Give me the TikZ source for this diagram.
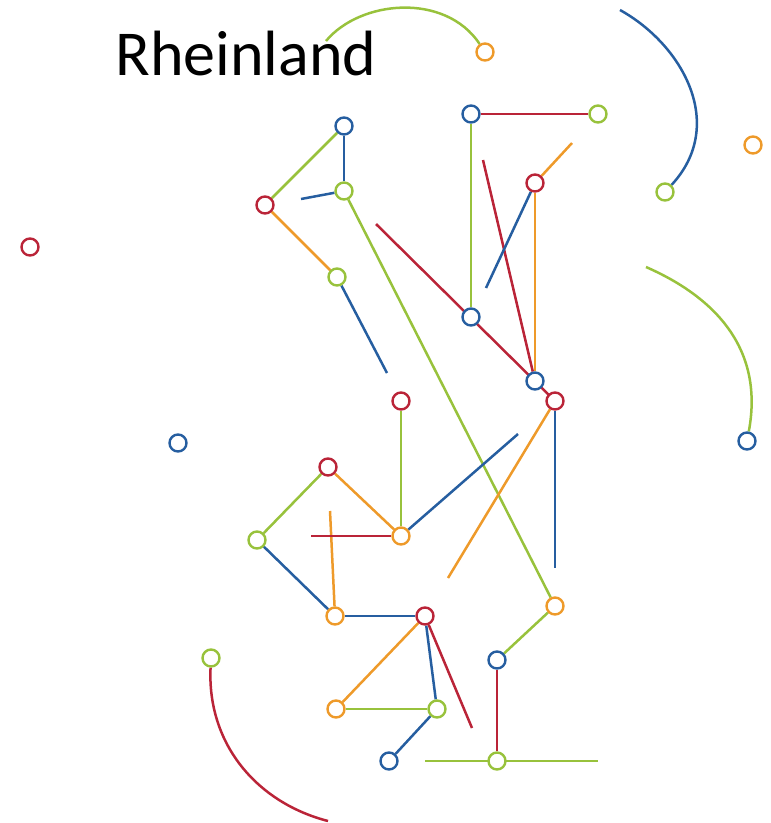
\documentclass[tikz,border=0pt]{standalone}
\usepackage{fontspec}
\setmainfont{Carlito}
\usetikzlibrary{backgrounds}
\definecolor{cblue}{RGB}{38,94,160}
\definecolor{cred}{RGB}{186,36,56}
\definecolor{cgreen}{RGB}{152,194,60}
\definecolor{corange}{RGB}{238,154,42}
\tikzset{
  dot/.style={circle, draw=#1, fill=white, line width=2.4pt, minimum size=17pt, inner sep=0pt},
  ln/.style={draw=#1, line width=2.5pt},
}
\begin{document}
\begin{tikzpicture}[x=1pt,y=-1pt]
\useasboundingbox (0,0) rectangle (771,823);
\node[anchor=base, font=\fontsize{64}{70}\selectfont, inner sep=0pt] (title) at (246,75) {Rheinland};
% nodes
\node[dot=cblue] (A) at (344,126) {};
\node[dot=cgreen] (B) at (344,191) {};
\node[dot=cred] (C) at (265,205) {};
\node[dot=cgreen] (D) at (337,277) {};
\node[dot=cblue] (E) at (471,114) {};
\node[dot=cgreen] (F) at (598,114) {};
\node[dot=cred] (G) at (535,183) {};
\node[dot=cblue] (H) at (471,317) {};
\node[dot=cblue] (I) at (535,381) {};
\node[dot=cred] (J) at (555,401) {};
\node[dot=cred] (K) at (401,401) {};
\node[dot=cred] (L) at (328,467) {};
\node[dot=cgreen] (M) at (257,540) {};
\node[dot=corange] (N) at (401,536) {};
\node[dot=corange] (O) at (335,616) {};
\node[dot=cred] (P) at (425,616) {};
\node[dot=corange] (Q) at (555,606) {};
\node[dot=cblue] (R) at (497,660) {};
\node[dot=cgreen] (S) at (211,658) {};
\node[dot=corange] (T) at (336,709) {};
\node[dot=cgreen] (U) at (437,709) {};
\node[dot=cblue] (V) at (389,761) {};
\node[dot=cgreen] (W) at (497,761) {};
\node[dot=corange] (X) at (485,52) {};
\node[dot=corange] (Y) at (753,145) {};
\node[dot=cgreen] (Z) at (665,192) {};
\node[dot=cred] (AA) at (30,247) {};
\node[dot=cblue] (AB) at (178,443) {};
\node[dot=cblue] (AC) at (747,441) {};
% free ends
\coordinate (b1) at (301,199);
\coordinate (d1) at (387,373);
\coordinate (r1) at (376,224);
\coordinate (r2) at (483,160);
\coordinate (g1) at (572,143);
\coordinate (g2) at (486,288);
\coordinate (j1) at (555,568);
\coordinate (j2) at (448,578);
\coordinate (o1) at (330,511);
\coordinate (n1) at (311,536);
\coordinate (n2) at (518,434);
\coordinate (p1) at (472,728);
\coordinate (w1) at (425,761);
\coordinate (w2) at (598,761);
\coordinate (s1) at (328,821);
\coordinate (z1) at (620,10);
\coordinate (ac1) at (646,267);
\coordinate (x1) at (326,41);
\begin{scope}[on background layer]
\draw[ln=cgreen] (A) -- (C);
\draw[ln=cblue] (A) -- (B);
\draw[ln=cblue] (B) -- (b1);
\draw[ln=corange] (C) -- (D);
\draw[ln=cblue] (D) -- (d1);
\draw[ln=cgreen] (B) -- (Q);
\draw[ln=cred] (r1) -- (J.center);
\draw[ln=cred] (E) -- (F);
\draw[ln=cgreen] (E) -- (H);
\draw[ln=cred] (r2) -- (I);
\draw[ln=corange] (G) -- (g1);
\draw[ln=corange] (G) -- (I);
\draw[ln=cblue] (G) -- (g2);
\draw[ln=cblue] (J) -- (j1);
\draw[ln=corange] (J) -- (j2);
\draw[ln=cgreen] (K) -- (N);
\draw[ln=corange] (L) -- (N);
\draw[ln=cgreen] (L) -- (M);
\draw[ln=cblue] (M) -- (O);
\draw[ln=corange] (O) -- (o1);
\draw[ln=cred] (N) -- (n1);
\draw[ln=cblue] (N) -- (n2);
\draw[ln=cblue] (O) -- (P);
\draw[ln=corange] (P) -- (T);
\draw[ln=cblue] (P) -- (U);
\draw[ln=cred] (P) -- (p1);
\draw[ln=cgreen] (T) -- (U);
\draw[ln=cblue] (U) -- (V);
\draw[ln=cgreen] (Q) -- (R);
\draw[ln=cred] (R) -- (W);
\draw[ln=cgreen] (w1) -- (w2);
\draw[ln=cred] (S) .. controls (207,745) and (258,803) .. (s1);
\draw[ln=cblue] (z1) .. controls (683,45) and (727,125) .. (Z);
\draw[ln=cgreen] (ac1) .. controls (710,295) and (765,345) .. (AC);
\draw[ln=cgreen] (x1) .. controls (360,0) and (445,-8) .. (X);
\end{scope}
\end{tikzpicture}
\end{document}
